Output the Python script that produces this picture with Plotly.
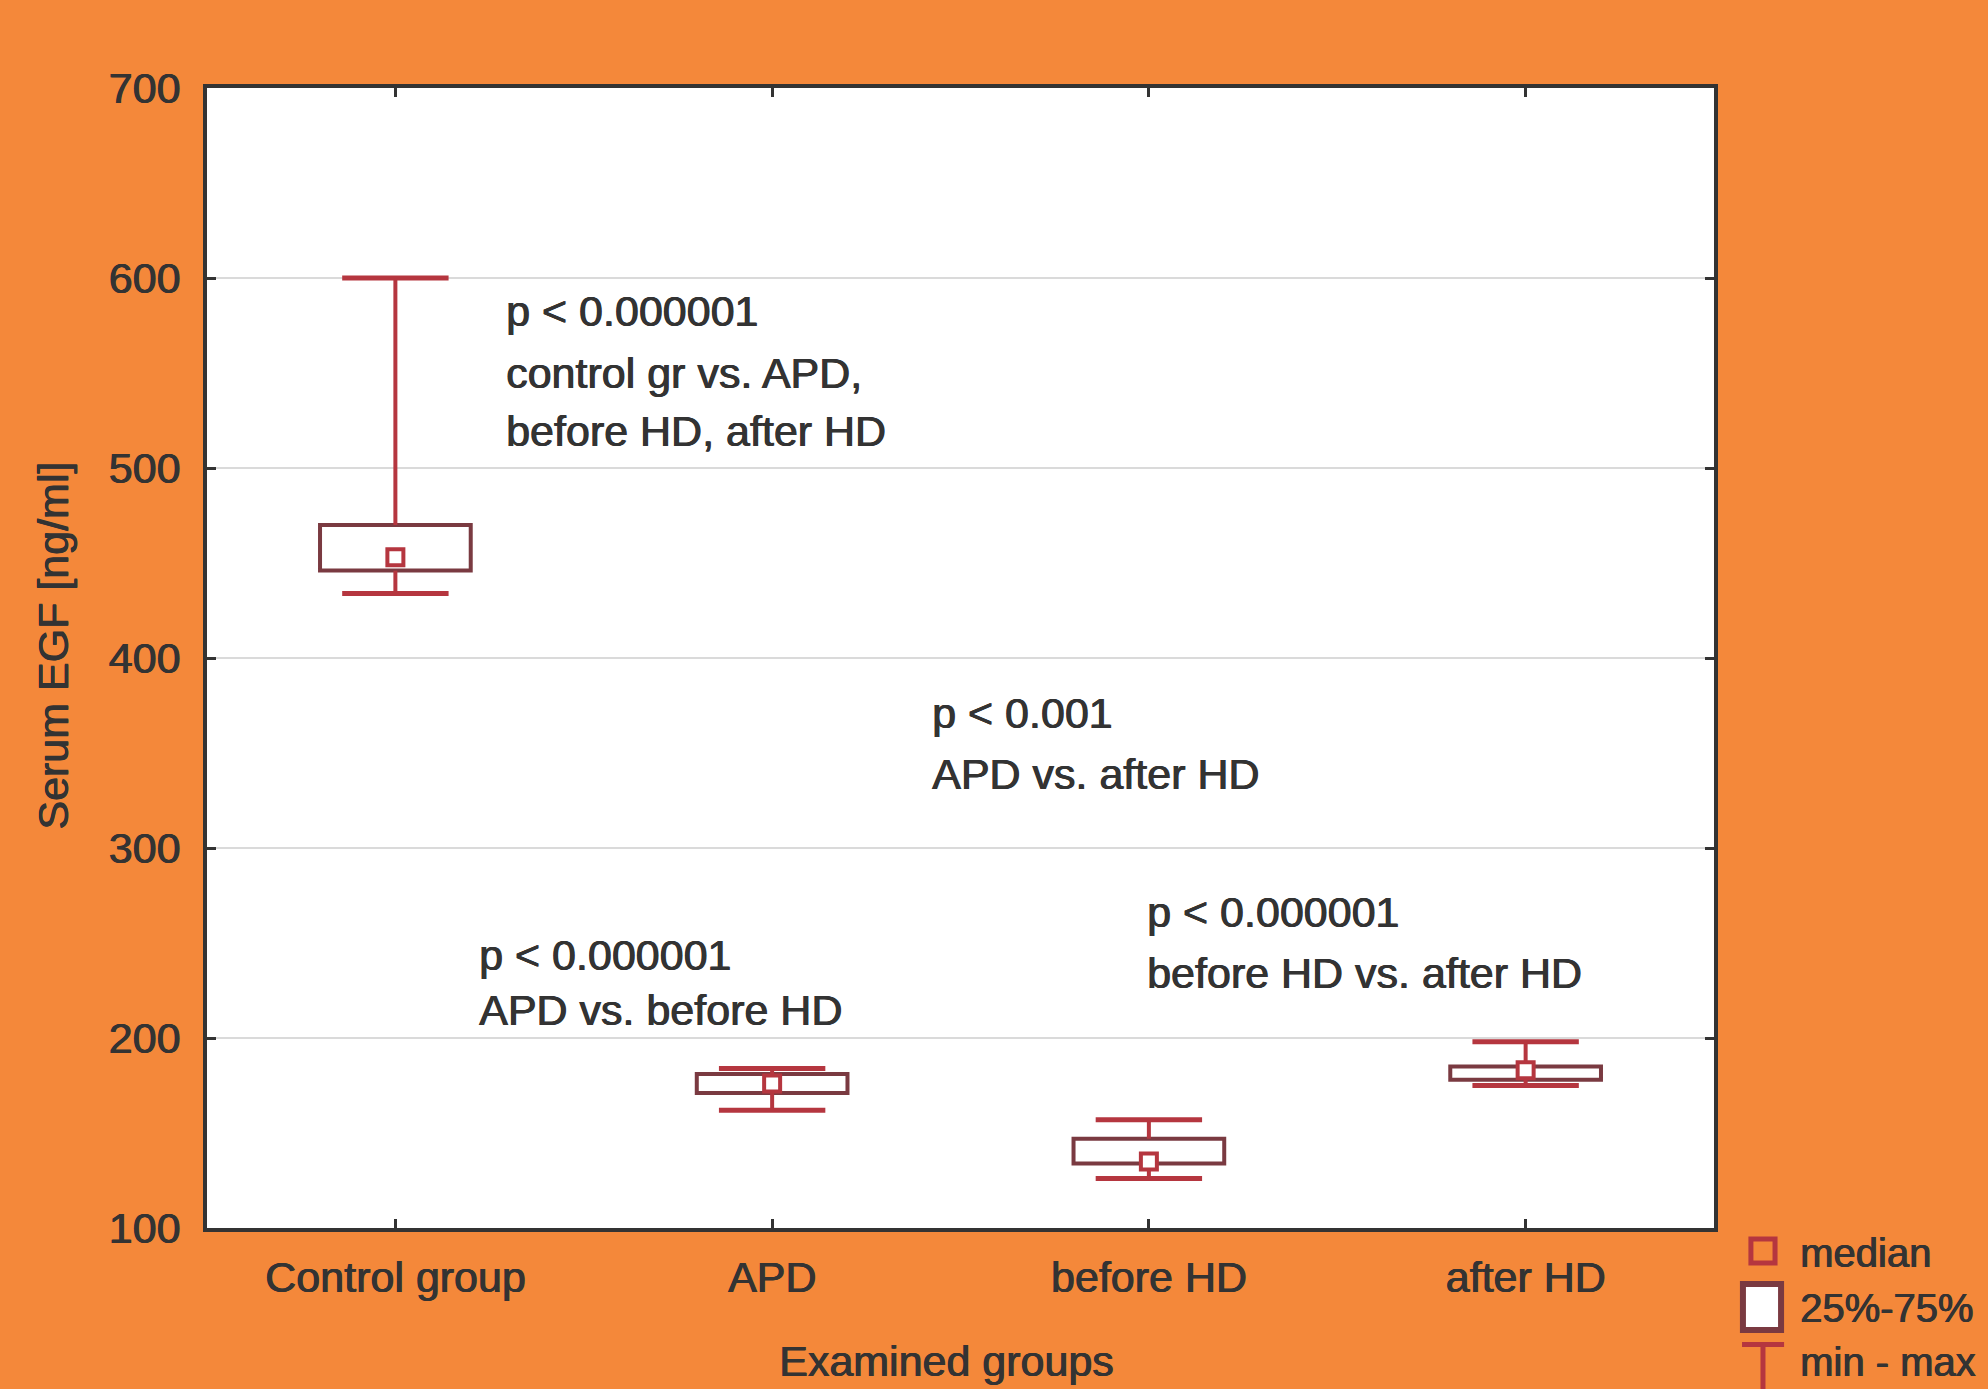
import plotly.graph_objects as go

# ---------------- data ----------------
groups = ["Control group", "APD", "before HD", "after HD"]
mins    = [434, 162, 126, 175]
q1s     = [446, 171, 134, 178]
medians = [453, 176, 135, 183]
q3s     = [470, 181, 147, 185]
maxs    = [600, 184, 157, 198]

y_ticks = [100, 200, 300, 400, 500, 600, 700]

annotation_lines = [
    # (x paper, y paper, text)
    (0.197, 0.804, "p < 0.000001"),
    (0.197, 0.750, "control gr vs. APD,"),
    (0.197, 0.699, "before HD, after HD"),
    (0.179, 0.2395, "p < 0.000001"),
    (0.179, 0.191, "APD vs. before HD"),
    (0.480, 0.452, "p < 0.001"),
    (0.480, 0.398, "APD vs. after HD"),
    (0.6224, 0.277, "p < 0.000001"),
    (0.6224, 0.2237, "before HD vs. after HD"),
]

legend_labels = ["median", "25%-75%", "min - max"]

# ---------------- styles ----------------
BG = "#F4883A"
BOX = "#7A3A41"
RED = "#B5363F"
TXT = "#333333"
FONT = "Liberation Sans, Arial, sans-serif"
FS = 43
SHADOW = "0.7px 0 0 #333333, -0.3px 0 0 #333333"


def tfont(size=FS):
    return dict(family=FONT, size=size, color=TXT, shadow=SHADOW)


fig = go.Figure()

# boxes (25%-75%)
fig.add_trace(go.Bar(
    x=groups,
    y=[b - a for a, b in zip(q1s, q3s)],
    base=q1s,
    width=0.4,
    marker=dict(color="white", line=dict(color=BOX, width=4)),
    name="25%-75%",
    showlegend=False,
))

# whiskers
wx, wy = [], []
for g, lo, a, b, hi in zip(groups, mins, q1s, q3s, maxs):
    wx += [g, g, None, g, g, None]
    wy += [b, hi, None, lo, a, None]
fig.add_trace(go.Scatter(
    x=wx, y=wy, mode="lines",
    line=dict(color=RED, width=4),
    name="min - max",
    showlegend=False,
))

# whisker caps
fig.add_trace(go.Scatter(
    x=groups + groups,
    y=maxs + mins,
    mode="markers",
    marker=dict(symbol="line-ew", size=76, line=dict(color=RED, width=5)),
    showlegend=False,
))

# medians
fig.add_trace(go.Scatter(
    x=groups, y=medians, mode="markers",
    marker=dict(symbol="square", size=16, color="white",
                line=dict(color=RED, width=4)),
    name="median",
    showlegend=False,
))

for xp, yp, t in annotation_lines:
    fig.add_annotation(x=xp, y=yp, xref="paper", yref="paper", text=t,
                       showarrow=False, xanchor="left", yanchor="middle",
                       font=tfont())

# axis titles
fig.add_annotation(x=0.4904, y=-0.1165, xref="paper", yref="paper",
                   text="Examined groups", showarrow=False,
                   xanchor="center", yanchor="middle", font=tfont())
fig.add_annotation(x=-0.102, y=0.511, xref="paper", yref="paper",
                   text="Serum EGF [ng/ml]", showarrow=False, textangle=-90,
                   xanchor="center", yanchor="middle", font=tfont())

# ---- legend (drawn outside the plot, bottom right) ----
# median key
fig.add_shape(type="rect", xref="paper", yref="paper",
              x0=1.0245, x1=1.0405, y0=-0.0307, y1=-0.0097,
              line=dict(color=RED, width=5), fillcolor="rgba(0,0,0,0)")
# 25%-75% key
fig.add_shape(type="rect", xref="paper", yref="paper",
              x0=1.0192, x1=1.0445, y0=-0.0895, y1=-0.0491,
              line=dict(color=BOX, width=6), fillcolor="white")
# min - max key
fig.add_shape(type="line", xref="paper", yref="paper",
              x0=1.0186, x1=1.0465, y0=-0.1022, y1=-0.1022,
              line=dict(color=RED, width=5))
fig.add_shape(type="line", xref="paper", yref="paper",
              x0=1.0325, x1=1.0325, y0=-0.1022, y1=-0.16,
              line=dict(color=RED, width=5))
for yp, t in zip([-0.0219, -0.0702, -0.1175], legend_labels):
    fig.add_annotation(x=1.0558, y=yp, xref="paper", yref="paper", text=t,
                       showarrow=False, xanchor="left", yanchor="middle",
                       font=tfont(40))

axis_common = dict(
    showline=True, linecolor=TXT, linewidth=4, mirror="ticks",
    ticks="inside", ticklen=9, tickwidth=3, tickcolor=TXT,
    tickfont=tfont(),
    zeroline=False,
)

fig.update_layout(
    width=1988, height=1389,
    paper_bgcolor=BG, plot_bgcolor="white",
    margin=dict(l=207, r=274, t=88, b=161, autoexpand=False),
    font=dict(family=FONT, size=FS, color=TXT),
    xaxis=dict(
        type="category", categoryorder="array", categoryarray=groups,
        range=[-0.5, 3.5], showgrid=False, ticklabelstandoff=8,
        **axis_common,
    ),
    yaxis=dict(
        range=[100, 700], tickvals=y_ticks,
        showgrid=True, gridcolor="#DADADA", gridwidth=2,
        ticklabelstandoff=14,
        **axis_common,
    ),
    showlegend=False,
)

fig.write_html("out.html", config={"displayModeBar": False},
               post_script="document.body.style.margin='0';")
